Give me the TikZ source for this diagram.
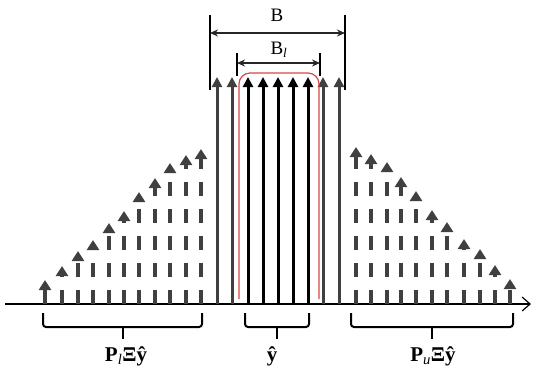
\documentclass[tikz,border=0pt]{standalone}
\usepackage{fontspec}
\setmainfont{Liberation Serif}
\usetikzlibrary{arrows.meta}
\definecolor{darkg}{RGB}{64,64,64}
\definecolor{redl}{RGB}{215,70,70}
\tikzset{
  x=1pt,y=-1pt,
  dasharrow/.style={darkg,line width=3.8pt,dash pattern=on 14pt off 13pt,-{Triangle[width=12pt,length=10pt]}},
  grayarrow/.style={darkg,line width=3pt,-{Triangle[width=10pt,length=10pt]}},
  blackarrow/.style={black,line width=3pt,-{Triangle[width=10pt,length=10pt]}},
  dimline/.style={black,line width=1.6pt},
  dimarrow/.style={black!85,line width=1.2pt,{Stealth[length=8pt,width=7pt]}-{Stealth[length=8pt,width=7pt]}},
  bracestyle/.style={black,line width=2pt,rounded corners=3pt},
  lbl/.style={font=\fontsize{21}{23}\selectfont\bfseries,inner sep=0pt},
  dimlbl/.style={font=\fontsize{19}{21}\selectfont,inner sep=0pt}
}
\begin{document}
\begin{tikzpicture}
\useasboundingbox (0,0) rectangle (533,373);
% axis
\coordinate (ax0) at (5,304);
\coordinate (ax1) at (531,304);
\draw[black,line width=1.2pt,-{Straight Barb[length=8pt,width=14pt]}] (ax0) -- (ax1);
% left dashed arrows
\foreach \x/\t in {45/280,62/266,78/251,93/240,109/223,124/211,139/192,155/178,170/163,186/155,201/149}{
  \coordinate (b) at (\x,303.5); \coordinate (t) at (\x,\t);
  \draw[dasharrow] (b) -- (t);
}
% right dashed arrows
\foreach \x/\t in {356/147,371/154,387/162,401/177,416/191,432/210,447/222,464/239,480/249,495/265,510/279}{
  \coordinate (b) at (\x,303.5); \coordinate (t) at (\x,\t);
  \draw[dasharrow] (b) -- (t);
}
% central arrows
\foreach \x in {217,232,323,339}{
  \coordinate (b) at (\x,304); \coordinate (t) at (\x,77);
  \draw[grayarrow] (b) -- (t);
}
\foreach \x in {248,263,278,293,308}{
  \coordinate (b) at (\x,304); \coordinate (t) at (\x,77);
  \draw[blackarrow] (b) -- (t);
}
% red band
\draw[redl,line width=1.2pt,rounded corners=11pt] (239,299) -- (239,73) -- (319,73) -- (319,299);
% dimension B
\coordinate (B1t) at (210,15); \coordinate (B1b) at (210,90);
\coordinate (B2t) at (345,15); \coordinate (B2b) at (345,90);
\draw[dimline] (B1t) -- (B1b);
\draw[dimline] (B2t) -- (B2b);
\coordinate (Ba) at (210,33); \coordinate (Bb) at (345,33);
\draw[dimarrow] (Ba) -- (Bb);
\node[dimlbl] (Blab) at (277,15) {B};
% dimension Bl
\coordinate (L1t) at (237,53); \coordinate (L1b) at (237,76);
\coordinate (L2t) at (320,53); \coordinate (L2b) at (320,76);
\draw[dimline] (L1t) -- (L1b);
\draw[dimline] (L2t) -- (L2b);
\coordinate (La) at (237,63); \coordinate (Lb) at (320,63);
\draw[dimarrow] (La) -- (Lb);
\node[dimlbl] (Bllab) at (279,50) {B\textsubscript{\itshape l}};
% braces
\draw[bracestyle] (43,313) -- (43,327) -- (202,327) -- (202,313);
\draw[line width=2pt] (123,327) -- (123,339);
\draw[bracestyle] (245,313) -- (245,327) -- (309,327) -- (309,313);
\draw[line width=2pt] (277,327) -- (277,339);
\draw[bracestyle] (351,313) -- (351,327) -- (513,327) -- (513,313);
\draw[line width=2pt] (432,327) -- (432,339);
% labels
\node[lbl,anchor=base] (l1) at (126,361) {P\textsubscript{\mdseries\itshape l}Ξŷ};
\node[lbl,anchor=base] (l2) at (272,361) {ŷ};
\node[lbl,anchor=base] (l3) at (433,361) {P\textsubscript{\mdseries\itshape u}Ξŷ};
\end{tikzpicture}
\end{document}
